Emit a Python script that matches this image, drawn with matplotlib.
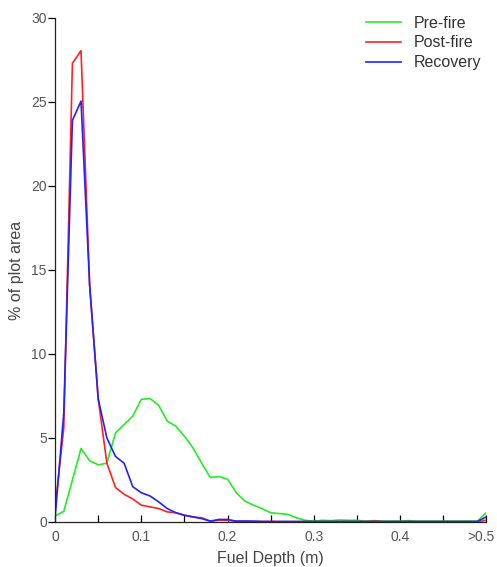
import numpy as np
import matplotlib
matplotlib.use("Agg")
import matplotlib.pyplot as plt
import matplotlib.transforms as mtransforms

plt.rcParams["font.family"] = ["Liberation Sans", "DejaVu Sans"]

# ── Data ──────────────────────────────────────────────────────────────────────
depth = np.round(np.arange(0, 0.51, 0.01), 2)

pre_fire = [0.36, 0.63, 2.5, 4.37, 3.65, 3.4, 3.5, 5.3, 5.8, 6.3,
            7.3, 7.35, 6.95, 6.0, 5.7, 5.1, 4.4, 3.5, 2.65, 2.7,
            2.55, 1.75, 1.25, 1.0, 0.8, 0.55, 0.5, 0.45, 0.25, 0.1,
            0.05, 0.1, 0.08, 0.12, 0.1, 0.1, 0.05, 0.08, 0.05, 0.05,
            0.05, 0.08, 0.05, 0.05, 0.05, 0.05, 0.05, 0.05, 0.05, 0.05,
            0.55]
post_fire = [0.9, 5.6, 27.3, 28.05, 14.1, 7.3, 3.5, 2.05, 1.65, 1.37,
             1.0, 0.9, 0.8, 0.6, 0.55, 0.4, 0.3, 0.25, 0.05, 0.1,
             0.1, 0.05, 0.05, 0.03, 0.03, 0.03, 0.02, 0.02, 0.02, 0.02,
             0.02, 0.02, 0.02, 0.02, 0.02, 0.02, 0.02, 0.05, 0.02, 0.02,
             0.02, 0.02, 0.02, 0.02, 0.02, 0.02, 0.02, 0.02, 0.02, 0.02,
             0.1]
recovery = [0.3, 6.5, 23.9, 25.05, 14.1, 7.3, 5.0, 3.9, 3.5, 2.1,
            1.74, 1.55, 1.2, 0.8, 0.55, 0.4, 0.3, 0.2, 0.05, 0.15,
            0.15, 0.05, 0.05, 0.05, 0.03, 0.03, 0.03, 0.03, 0.03, 0.03,
            0.03, 0.03, 0.03, 0.03, 0.03, 0.03, 0.03, 0.03, 0.03, 0.03,
            0.03, 0.03, 0.03, 0.03, 0.03, 0.03, 0.03, 0.03, 0.03, 0.03,
            0.3]

x_ticks = [0, 0.1, 0.2, 0.3, 0.4, 0.5]
x_labels = ["0", "0.1", "0.2", "0.3", "0.4", ">0.5"]
y_ticks = [0, 5, 10, 15, 20, 25, 30]

# ── Plot ──────────────────────────────────────────────────────────────────────
fig = plt.figure(figsize=(4.97, 5.67), dpi=100)
ax = fig.add_axes([0.111, 0.0794, 0.867, 0.889])

ax.plot(depth, pre_fire, color="#22ee22", lw=1.2, label="Pre-fire")
ax.plot(depth, post_fire, color="#ff2222", lw=1.2, label="Post-fire")
ax.plot(depth, recovery, color="#2222ff", lw=1.2, label="Recovery")

ax.set_xlim(0, 0.5)
ax.set_ylim(0, 30)
ax.spines["top"].set_visible(False)
ax.spines["right"].set_visible(False)
for s in ("left", "bottom"):
    ax.spines[s].set_linewidth(0.9)
    ax.spines[s].set_color("#222222")

ax.set_xticks(x_ticks)
ax.set_xticklabels(x_labels)
ax.set_xticks(np.arange(0.05, 0.5, 0.1), minor=True)
ax.set_yticks(y_ticks)
ax.tick_params(axis="x", which="both", direction="in", length=5, width=0.9,
               labelsize=10, labelcolor="#555555", pad=6)
ax.tick_params(axis="y", direction="out", length=5, width=0.9,
               labelsize=10, labelcolor="#555555", pad=1)

# nudge the ">0.5" label left so it stays inside the figure
last = ax.get_xticklabels()[-1]
last.set_transform(last.get_transform() +
                   mtransforms.ScaledTranslation(-4 / 72, 0, fig.dpi_scale_trans))

ax.set_xlabel("Fuel Depth (m)", fontsize=11.5, color="#444444", labelpad=5)
ax.set_ylabel("% of plot area", fontsize=11.5, color="#444444", labelpad=5)

leg = ax.legend(loc="upper right", bbox_to_anchor=(1.022, 1.033), frameon=False,
                fontsize=11.5, handlelength=2.2, handletextpad=0.8,
                labelspacing=0.3)
for t in leg.get_texts():
    t.set_color("#333333")

fig.savefig("out.png", dpi=100)
